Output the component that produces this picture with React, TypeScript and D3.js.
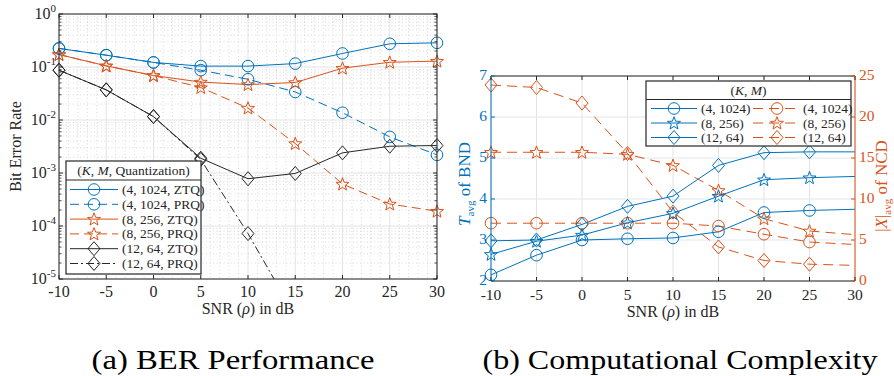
import React from "react";
import * as d3 from "d3";

// ---------- Data ----------
const snr = [-10, -5, 0, 5, 10, 15, 20, 25, 30];
const xTicks = [-10, -5, 0, 5, 10, 15, 20, 25, 30];
const berTickExp = [-5, -4, -3, -2, -1, 0];

const berZTQ_4_1024 = [0.224, 0.167, 0.122, 0.104, 0.104, 0.116, 0.18, 0.274, 0.286];
const berPRQ_4_1024 = [0.224, 0.167, 0.122, 0.087, 0.0587, 0.0338, 0.0137, 0.0048, 0.0022];
const berZTQ_8_256 = [0.172, 0.105, 0.069, 0.052, 0.0466, 0.051, 0.095, 0.123, 0.129];
const berPRQ_8_256 = [0.172, 0.105, 0.069, 0.041, 0.0168, 0.0036, 0.00062, 0.00026, 0.00019];
const berZTQ_12_64 = [0.087, 0.037, 0.0116, 0.0019, 0.00078, 0.00098, 0.0024, 0.0032, 0.0033];
const berPRQ_12_64 = [0.087, 0.037, 0.0116, 0.0018, 0.000072, 0.000002];

const berLabels = ["4, 1024, ZTQ", "4, 1024, PRQ", "8, 256, ZTQ", "8, 256, PRQ", "12, 64, ZTQ", "12, 64, PRQ"];

const tTicks = [2, 3, 4, 5, 6, 7];
const nTicks = [0, 5, 10, 15, 20, 25];
const tavg_4_1024 = [2.15, 2.63, 3.0, 3.03, 3.05, 3.2, 3.67, 3.72, 3.75];
const tavg_8_256 = [2.65, 2.97, 3.12, 3.42, 3.65, 4.07, 4.47, 4.52, 4.55];
const tavg_12_64 = [2.98, 3.0, 3.38, 3.82, 4.07, 4.82, 5.13, 5.15, 5.15];
const ncd_4_1024 = [7.05, 7.05, 7.05, 7.05, 7.05, 6.7, 5.7, 4.75, 4.45];
const ncd_8_256 = [15.7, 15.7, 15.7, 15.45, 14.1, 11.05, 7.6, 6.1, 5.65];
const ncd_12_64 = [23.9, 23.6, 21.7, 15.55, 8.4, 4.15, 2.5, 2.05, 1.9];
const kmLabels = ["4, 1024", "8, 256", "12, 64"];

// ---------- Styles ----------
const FONT = "'Times New Roman', Tinos, 'Liberation Serif', Times, serif";
const BLUE = "#0072BD";
const ORANGE = "#D95319";
const BLACK = "#262626";
const AXIS = "#262626";
const GRID = "#e3e3e3";
const MINOR = "#cfcfcf";

type MType = "o" | "star" | "d";

function markerPath(t: MType, cx: number, cy: number): string {
  if (t === "o") {
    const r = 5.8;
    return `M${cx + r},${cy}A${r},${r} 0 1,1 ${cx - r},${cy}A${r},${r} 0 1,1 ${cx + r},${cy}Z`;
  }
  if (t === "d") {
    const w = 6, h = 7;
    return `M${cx},${cy - h}L${cx + w},${cy}L${cx},${cy + h}L${cx - w},${cy}Z`;
  }
  const R = 6.8, r = R * 0.42;
  let p = "";
  for (let i = 0; i < 10; i++) {
    const a = -Math.PI / 2 + (i * Math.PI) / 5;
    const rr = i % 2 === 0 ? R : r;
    p += (i === 0 ? "M" : "L") + (cx + rr * Math.cos(a)).toFixed(2) + "," + (cy + 0.5 + rr * Math.sin(a)).toFixed(2);
  }
  return p + "Z";
}

// ---------- Left plot scales ----------
const L = { x0: 59, x1: 437, y0: 14, y1: 279 };
const xL = d3.scaleLinear().domain([-10, 30]).range([L.x0, L.x1]);
const yL = d3.scaleLog().domain([1e-5, 1]).range([L.y1, L.y0]);

// ---------- Right plot scales ----------
const R = { x0: 491, x1: 855, y0: 76, y1: 281 };
const xR = d3.scaleLinear().domain([-10, 30]).range([R.x0, R.x1]);
const yRL = d3.scaleLinear().domain([2, 7]).range([R.y1, R.y0]);
const yRR = d3.scaleLinear().domain([0, 25]).range([R.y1, R.y0]);

type Series = { vals: number[]; color: string; dash: string; m: MType; label: string };

const berSeries: Series[] = [
  { vals: berZTQ_4_1024, color: BLUE, dash: "", m: "o", label: berLabels[0] },
  { vals: berPRQ_4_1024, color: BLUE, dash: "9,5", m: "o", label: berLabels[1] },
  { vals: berZTQ_8_256, color: ORANGE, dash: "", m: "star", label: berLabels[2] },
  { vals: berPRQ_8_256, color: ORANGE, dash: "9,5", m: "star", label: berLabels[3] },
  { vals: berZTQ_12_64, color: BLACK, dash: "", m: "d", label: berLabels[4] },
  { vals: berPRQ_12_64, color: BLACK, dash: "8,3,2,3", m: "d", label: berLabels[5] },
];

const tSeries: Series[] = [
  { vals: tavg_4_1024, color: BLUE, dash: "", m: "o", label: kmLabels[0] },
  { vals: tavg_8_256, color: BLUE, dash: "", m: "star", label: kmLabels[1] },
  { vals: tavg_12_64, color: BLUE, dash: "", m: "d", label: kmLabels[2] },
];
const nSeries: Series[] = [
  { vals: ncd_4_1024, color: ORANGE, dash: "10,6", m: "o", label: kmLabels[0] },
  { vals: ncd_8_256, color: ORANGE, dash: "10,6", m: "star", label: kmLabels[1] },
  { vals: ncd_12_64, color: ORANGE, dash: "10,6", m: "d", label: kmLabels[2] },
];

function LeftPlot() {
  const line = d3
    .line<[number, number]>()
    .x((d) => xL(d[0]))
    .y((d) => yL(d[1]));
  const minorX = d3.range(-10, 31, 1).filter((v) => v % 5 !== 0);
  const minorY: number[] = [];
  for (let e = -5; e < 0; e++) for (let k = 2; k <= 9; k++) minorY.push(k * Math.pow(10, e));
  const [d0, d1] = yL.domain();
  const legX0 = 66, legX1 = 201, legY0 = 161, legY1 = 274;
  return (
    <g>
      <defs>
        <clipPath id="clipL">
          <rect x={L.x0} y={L.y0} width={L.x1 - L.x0} height={L.y1 - L.y0} />
        </clipPath>
      </defs>
      {minorX.map((v) => (
        <line key={"mx" + v} x1={xL(v)} x2={xL(v)} y1={L.y0} y2={L.y1} stroke={MINOR} strokeWidth={0.8} strokeDasharray="1,2.5" />
      ))}
      {minorY.map((v, i) => (
        <line key={"my" + i} x1={L.x0} x2={L.x1} y1={yL(v)} y2={yL(v)} stroke={MINOR} strokeWidth={0.8} strokeDasharray="1,2.5" />
      ))}
      {xTicks.map((v) => (
        <line key={"gx" + v} x1={xL(v)} x2={xL(v)} y1={L.y0} y2={L.y1} stroke={GRID} strokeWidth={1} />
      ))}
      {berTickExp.map((e) => (
        <line key={"gy" + e} x1={L.x0} x2={L.x1} y1={yL(Math.pow(10, e))} y2={yL(Math.pow(10, e))} stroke={GRID} strokeWidth={1} />
      ))}
      <g clipPath="url(#clipL)">
        {berSeries.map((s, i) => (
          <path
            key={"l" + i}
            d={line(s.vals.map((v, j) => [snr[j], v] as [number, number])) || ""}
            fill="none"
            stroke={s.color}
            strokeWidth={1}
            strokeDasharray={s.dash || undefined}
          />
        ))}
      </g>
      {berSeries.map((s, i) =>
        s.vals.map((v, j) =>
          v >= d0 && v <= d1 ? (
            <path key={"m" + i + "-" + j} d={markerPath(s.m, xL(snr[j]), yL(v))} fill="none" stroke={s.color} strokeWidth={1} />
          ) : null
        )
      )}
      <rect x={L.x0} y={L.y0} width={L.x1 - L.x0} height={L.y1 - L.y0} fill="none" stroke={AXIS} strokeWidth={1} />
      {xTicks.map((v) => (
        <g key={"tx" + v}>
          <line x1={xL(v)} x2={xL(v)} y1={L.y1} y2={L.y1 - 4} stroke={AXIS} />
          <line x1={xL(v)} x2={xL(v)} y1={L.y0} y2={L.y0 + 4} stroke={AXIS} />
          <text x={xL(v)} y={L.y1 + 18} textAnchor="middle" fontSize={16} fontFamily={FONT} fill={AXIS}>
            {v}
          </text>
        </g>
      ))}
      {minorY.map((v, i) => (
        <g key={"mt" + i}>
          <line x1={L.x0} x2={L.x0 + 2.5} y1={yL(v)} y2={yL(v)} stroke={AXIS} strokeWidth={0.8} />
          <line x1={L.x1} x2={L.x1 - 2.5} y1={yL(v)} y2={yL(v)} stroke={AXIS} strokeWidth={0.8} />
        </g>
      ))}
      {berTickExp.map((e) => {
        const y = yL(Math.pow(10, e));
        return (
          <g key={"ty" + e}>
            <line x1={L.x0} x2={L.x0 + 4} y1={y} y2={y} stroke={AXIS} />
            <line x1={L.x1} x2={L.x1 - 4} y1={y} y2={y} stroke={AXIS} />
            <text x={L.x0 - 3} y={y + 5} textAnchor="end" fontSize={16} fontFamily={FONT} fill={AXIS}>
              10
              <tspan fontSize={11} dy={-7}>
                {e}
              </tspan>
            </text>
          </g>
        );
      })}
      <text x={(L.x0 + L.x1) / 2} y={314} textAnchor="middle" fontSize={16} fontFamily={FONT} fill={AXIS}>
        SNR (<tspan fontStyle="italic">ρ</tspan>) in dB
      </text>
      <text transform={`translate(21,${(L.y0 + L.y1) / 2}) rotate(-90)`} textAnchor="middle" fontSize={16} fontFamily={FONT} fill={AXIS}>
        Bit Error Rate
      </text>
      <rect x={legX0} y={legY0} width={legX1 - legX0} height={legY1 - legY0} fill="#fff" stroke={AXIS} strokeWidth={1.2} />
      <line x1={legX0} x2={legX1} y1={180} y2={180} stroke={AXIS} strokeWidth={1} />
      <text x={(legX0 + legX1) / 2} y={175} textAnchor="middle" fontSize={13.5} fontFamily={FONT} fill={AXIS}>
        (<tspan fontStyle="italic">K</tspan>, <tspan fontStyle="italic">M</tspan>, Quantization)
      </text>
      {berSeries.map((s, i) => {
        const y = 189.5 + i * 14.8;
        return (
          <g key={"lg" + i}>
            <line x1={70} x2={118} y1={y} y2={y} stroke={s.color} strokeWidth={1} strokeDasharray={s.dash || undefined} />
            <path d={markerPath(s.m, 94, y)} fill="none" stroke={s.color} strokeWidth={1} />
            <text x={122} y={y + 4.5} fontSize={13.5} fontFamily={FONT} fill={AXIS}>
              ({s.label})
            </text>
          </g>
        );
      })}
      <text x={233} y={369} textAnchor="middle" fontSize={28} fontFamily={FONT} fill="#000" textLength={283} lengthAdjust="spacingAndGlyphs">
        (a) BER Performance
      </text>
    </g>
  );
}

function RightPlot() {
  const lineT = d3
    .line<[number, number]>()
    .x((d) => xR(d[0]))
    .y((d) => yRL(d[1]));
  const lineN = d3
    .line<[number, number]>()
    .x((d) => xR(d[0]))
    .y((d) => yRR(d[1]));
  const legX0 = 646, legX1 = 851, legY0 = 81, legY1 = 146;
  return (
    <g>
      <defs>
        <clipPath id="clipR">
          <rect x={R.x0} y={R.y0} width={R.x1 - R.x0} height={R.y1 - R.y0} />
        </clipPath>
      </defs>
      {xTicks.map((v) => (
        <line key={"gx" + v} x1={xR(v)} x2={xR(v)} y1={R.y0} y2={R.y1} stroke={GRID} strokeWidth={1} />
      ))}
      {tTicks.map((v) => (
        <line key={"gy" + v} x1={R.x0} x2={R.x1} y1={yRL(v)} y2={yRL(v)} stroke="#dde8f2" strokeWidth={1} />
      ))}
      <g clipPath="url(#clipR)">
        {nSeries.map((s, i) => (
          <path key={"n" + i} d={lineN(s.vals.map((v, j) => [snr[j], v] as [number, number])) || ""} fill="none" stroke={s.color} strokeWidth={1} strokeDasharray={s.dash} />
        ))}
        {tSeries.map((s, i) => (
          <path key={"t" + i} d={lineT(s.vals.map((v, j) => [snr[j], v] as [number, number])) || ""} fill="none" stroke={s.color} strokeWidth={1} />
        ))}
      </g>
      {nSeries.map((s, i) =>
        s.vals.slice(0, 8).map((v, j) => (
          <path key={"nm" + i + "-" + j} d={markerPath(s.m, xR(snr[j]), yRR(v))} fill="none" stroke={s.color} strokeWidth={1} />
        ))
      )}
      {tSeries.map((s, i) =>
        s.vals.slice(0, 8).map((v, j) => (
          <path key={"tm" + i + "-" + j} d={markerPath(s.m, xR(snr[j]), yRL(v))} fill="none" stroke={s.color} strokeWidth={1} />
        ))
      )}
      <line x1={R.x0} x2={R.x1} y1={R.y0} y2={R.y0} stroke={AXIS} />
      <line x1={R.x0} x2={R.x1} y1={R.y1} y2={R.y1} stroke={AXIS} />
      <line x1={R.x0} x2={R.x0} y1={R.y0} y2={R.y1} stroke={BLUE} />
      <line x1={R.x1} x2={R.x1} y1={R.y0} y2={R.y1} stroke={ORANGE} />
      {xTicks.map((v) => (
        <g key={"tx" + v}>
          <line x1={xR(v)} x2={xR(v)} y1={R.y1} y2={R.y1 - 4} stroke={AXIS} />
          <line x1={xR(v)} x2={xR(v)} y1={R.y0} y2={R.y0 + 4} stroke={AXIS} />
          <text x={xR(v)} y={R.y1 + 19} textAnchor="middle" fontSize={15.5} fontFamily={FONT} fill={AXIS}>
            {v}
          </text>
        </g>
      ))}
      {tTicks.map((v) => (
        <g key={"tl" + v}>
          <line x1={R.x0} x2={R.x0 + 4} y1={yRL(v)} y2={yRL(v)} stroke={BLUE} />
          <text x={R.x0 - 4} y={yRL(v) + 3.5} textAnchor="end" fontSize={15.5} fontFamily={FONT} fill={BLUE}>
            {v}
          </text>
        </g>
      ))}
      {nTicks.map((v) => (
        <g key={"tr" + v}>
          <line x1={R.x1} x2={R.x1 - 4} y1={yRR(v)} y2={yRR(v)} stroke={ORANGE} />
          <text x={R.x1 + 4} y={yRR(v) + 3.5} textAnchor="start" fontSize={15.5} fontFamily={FONT} fill={ORANGE}>
            {v}
          </text>
        </g>
      ))}
      <text x={(R.x0 + R.x1) / 2} y={317} textAnchor="middle" fontSize={16} fontFamily={FONT} fill={AXIS}>
        SNR (<tspan fontStyle="italic">ρ</tspan>) in dB
      </text>
      <text transform={`translate(470,184) rotate(-90)`} textAnchor="middle" fontSize={17} fontFamily={FONT} fill={BLUE}>
        <tspan fontStyle="italic">T</tspan>
        <tspan fontSize={11} dy={4}>avg</tspan>
        <tspan dy={-4}> of BND</tspan>
      </text>
      <text transform={`translate(887,186) rotate(-90)`} textAnchor="middle" fontSize={17} fontFamily={FONT} fill={ORANGE}>
        |<tspan fontStyle="italic">X</tspan>|<tspan fontSize={11} dy={4}>avg</tspan>
        <tspan dy={-4}> of NCD</tspan>
      </text>
      <rect x={legX0} y={legY0} width={legX1 - legX0} height={legY1 - legY0} fill="#fff" stroke={AXIS} strokeWidth={1.2} />
      <line x1={legX0} x2={legX1} y1={99.5} y2={99.5} stroke={AXIS} />
      <text x={(legX0 + legX1) / 2} y={94.5} textAnchor="middle" fontSize={13.5} fontFamily={FONT} fill={AXIS}>
        (<tspan fontStyle="italic">K</tspan>, <tspan fontStyle="italic">M</tspan>)
      </text>
      {tSeries.map((s, i) => {
        const y = 108.5 + i * 14.5;
        return (
          <g key={"lt" + i}>
            <line x1={651} x2={697} y1={y} y2={y} stroke={s.color} />
            <path d={markerPath(s.m, 674, y)} fill="none" stroke={s.color} />
            <text x={701} y={y + 4.5} fontSize={13.5} fontFamily={FONT} fill={AXIS}>
              ({s.label})
            </text>
          </g>
        );
      })}
      {nSeries.map((s, i) => {
        const y = 108.5 + i * 14.5;
        return (
          <g key={"ln" + i}>
            <line x1={753} x2={799} y1={y} y2={y} stroke={s.color} strokeDasharray="10,6" />
            <path d={markerPath(s.m, 777, y)} fill="none" stroke={s.color} />
            <text x={803} y={y + 4.5} fontSize={13.5} fontFamily={FONT} fill={AXIS}>
              ({s.label})
            </text>
          </g>
        );
      })}
      <text x={680} y={369} textAnchor="middle" fontSize={28} fontFamily={FONT} fill="#000" textLength={395} lengthAdjust="spacingAndGlyphs">
        (b) Computational Complexity
      </text>
    </g>
  );
}

export default function App() {
  return (
    <svg width={894} height={376} style={{ position: "absolute", left: 0, top: 0, background: "#fff" }}>
      <rect x={0} y={0} width={894} height={376} fill="#fff" />
      <LeftPlot />
      <RightPlot />
    </svg>
  );
}
